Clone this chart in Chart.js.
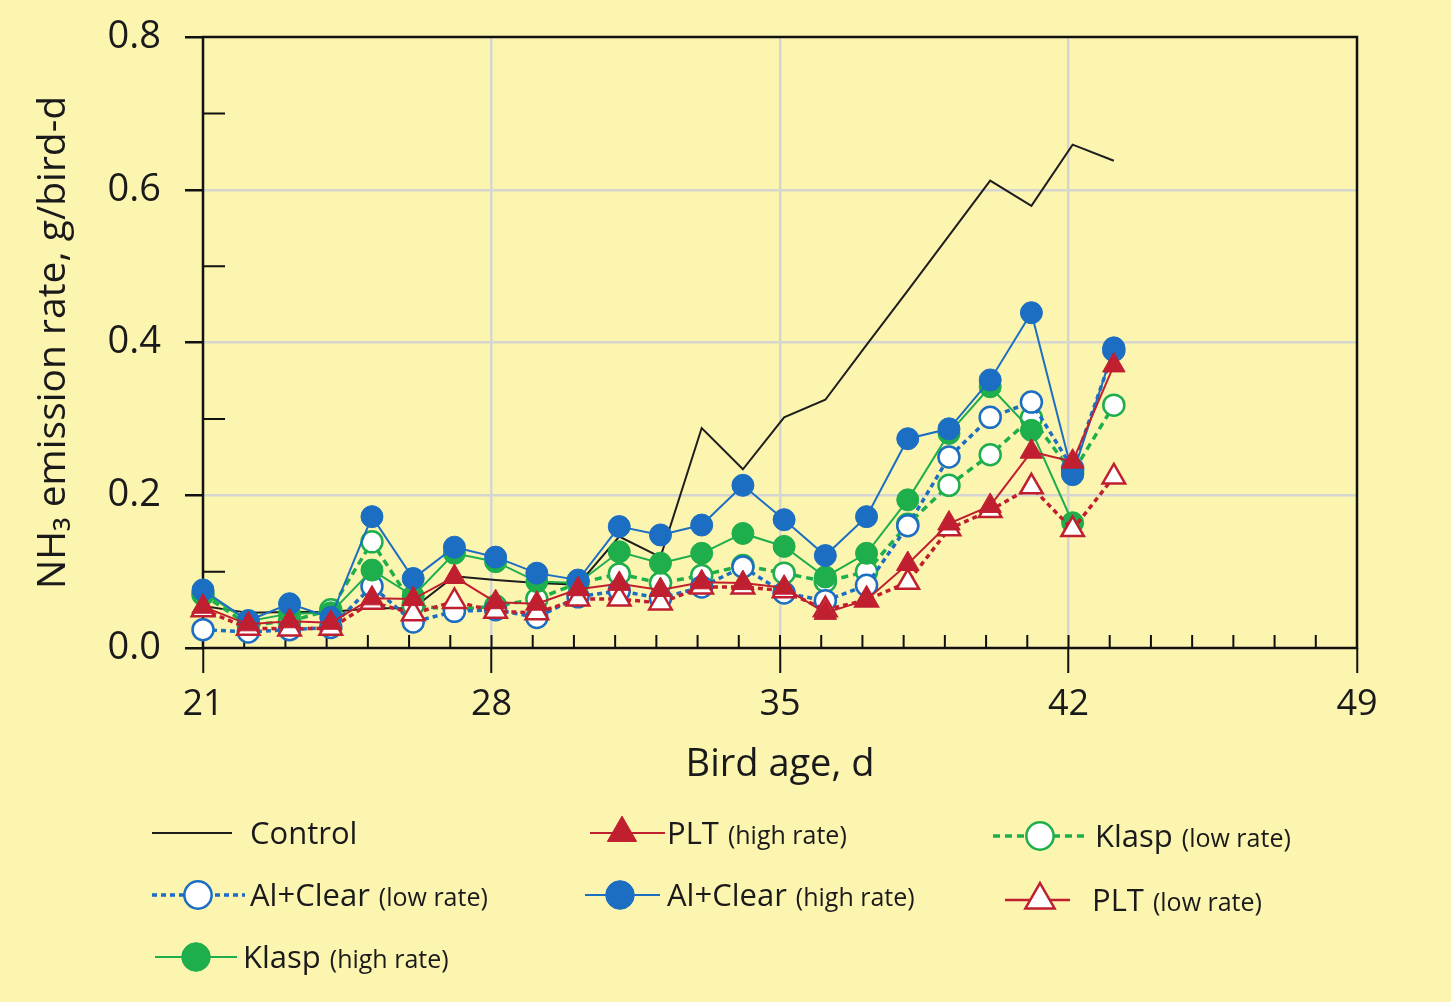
<!DOCTYPE html>
<html>
<head>
<meta charset="utf-8">
<script src="https://cdn.jsdelivr.net/npm/chart.js@4.4.1/dist/chart.umd.min.js"></script>
<style>
    html, body { margin: 0; padding: 0; background: #fcf5b0; }
    #wrap { width: 1451px; height: 1002px; }
</style>
</head>
<body>
<div id="wrap"><canvas id="nh3Chart" width="1451" height="1002"></canvas></div>
<script>
// Bird age (d) of each measurement
const ages = [21, 22.1, 23.1, 24.1, 25.1, 26.1, 27.1, 28.1, 29.1, 30.1, 31.1, 32.1,
              33.1, 34.1, 35.1, 36.1, 37.1, 38.1, 39.1, 40.1, 41.1, 42.1, 43.1];

// NH3 emission rate, g/bird-d
const control    = [0.055, 0.046, 0.047, 0.047, 0.052, 0.052, 0.094, 0.089, 0.085, 0.083, 0.146, 0.119,
                    0.288, 0.234, 0.302, 0.325, 0.397, 0.468, 0.540, 0.612, 0.579, 0.659, 0.638];
const alHigh     = [0.076, 0.036, 0.058, 0.040, 0.172, 0.091, 0.132, 0.119, 0.098, 0.089, 0.159, 0.148,
                    0.161, 0.213, 0.168, 0.121, 0.172, 0.274, 0.287, 0.351, 0.439, 0.227, 0.393];
const alLow      = [0.024, 0.021, 0.024, 0.027, 0.081, 0.034, 0.048, 0.050, 0.040, 0.067, 0.075, 0.065,
                    0.080, 0.106, 0.072, 0.062, 0.082, 0.160, 0.250, 0.302, 0.322, 0.235, 0.390];
const klaspHigh  = [0.073, 0.035, 0.045, 0.046, 0.102, 0.068, 0.124, 0.113, 0.087, 0.085, 0.126, 0.111,
                    0.124, 0.150, 0.133, 0.093, 0.124, 0.194, 0.281, 0.342, 0.285, 0.164, null];
const klaspLow   = [0.070, 0.030, 0.035, 0.050, 0.139, 0.056, 0.050, 0.055, 0.064, 0.085, 0.097, 0.085,
                    0.095, 0.108, 0.098, 0.087, 0.100, 0.162, 0.213, 0.253, 0.301, 0.229, 0.318];
const pltHigh    = [0.054, 0.031, 0.035, 0.033, 0.065, 0.064, 0.093, 0.060, 0.058, 0.077, 0.084, 0.076,
                    0.086, 0.085, 0.079, 0.046, 0.063, 0.110, 0.163, 0.186, 0.257, 0.244, 0.370];
const pltLow     = [0.050, 0.026, 0.025, 0.026, 0.060, 0.045, 0.061, 0.048, 0.046, 0.064, 0.064, 0.059,
                    0.080, 0.080, 0.075, 0.050, 0.063, 0.086, 0.156, 0.180, 0.211, 0.155, 0.224];

// Axis ticks
const xTicks = [21, 28, 35, 42, 49];
const yTicks = [0, 0.2, 0.4, 0.6, 0.8];
const yMinor = [0.1, 0.3, 0.5, 0.7];

const BLUE = '#1b6ec2';
const GREEN = '#1fae4c';
const RED = '#c01f30';
const BLACK = '#1e1e1e';

function pts(values) {
    return ages.map((a, i) => ({ x: a, y: values[i] }));
}

const datasets = [
    { label: 'PLT', note: '(high rate)', data: pts(pltHigh), order: 1,
      borderColor: RED, borderWidth: 2, pointStyle: 'triangle', pointRadius: 13,
      pointBackgroundColor: RED, pointBorderColor: RED, pointBorderWidth: 1 },
    { label: 'PLT', note: '(low rate)', data: pts(pltLow), order: 2,
      borderColor: RED, borderWidth: 3.5, borderDash: [5, 4], pointStyle: 'triangle', pointRadius: 13,
      pointBackgroundColor: '#fff', pointBorderColor: RED, pointBorderWidth: 2.5 },
    { label: 'Al+Clear', note: '(high rate)', data: pts(alHigh), order: 3,
      borderColor: BLUE, borderWidth: 2, pointStyle: 'circle', pointRadius: 11,
      pointBackgroundColor: BLUE, pointBorderColor: BLUE, pointBorderWidth: 1 },
    { label: 'Klasp', note: '(high rate)', data: pts(klaspHigh), order: 4,
      borderColor: GREEN, borderWidth: 2, pointStyle: 'circle', pointRadius: 11,
      pointBackgroundColor: GREEN, pointBorderColor: GREEN, pointBorderWidth: 1 },
    { label: 'Al+Clear', note: '(low rate)', data: pts(alLow), order: 5,
      borderColor: BLUE, borderWidth: 3.5, borderDash: [5, 4], pointStyle: 'circle', pointRadius: 10.5,
      pointBackgroundColor: '#fff', pointBorderColor: BLUE, pointBorderWidth: 2.5 },
    { label: 'Klasp', note: '(low rate)', data: pts(klaspLow), order: 6,
      borderColor: GREEN, borderWidth: 3.5, borderDash: [7, 5], pointStyle: 'circle', pointRadius: 10.5,
      pointBackgroundColor: '#fff', pointBorderColor: GREEN, pointBorderWidth: 2.5 },
    { label: 'Control', note: '', data: pts(control), order: 7,
      borderColor: BLACK, borderWidth: 2, pointRadius: 0 }
];
datasets.forEach(ds => { ds.clip = false; ds.fill = false; ds.tension = 0; ds.spanGaps = false; });

// Frame, inward minor ticks
const framePlugin = {
    id: 'frame',
    beforeDatasetsDraw(chart) {
        const { ctx, chartArea: a, scales: { x, y } } = chart;
        ctx.save();
        ctx.strokeStyle = '#111';
        ctx.lineWidth = 2.5;
        ctx.strokeRect(a.left, a.top, a.right - a.left, a.bottom - a.top);
        ctx.lineWidth = 2;
        ctx.beginPath();
        for (let d = 22; d < 49; d++) {
            const px = x.getPixelForValue(d);
            ctx.moveTo(px, a.bottom);
            ctx.lineTo(px, a.bottom - 13);
        }
        yMinor.forEach(v => {
            const py = y.getPixelForValue(v);
            ctx.moveTo(a.left, py);
            ctx.lineTo(a.left + 22, py);
        });
        ctx.stroke();
        ctx.restore();
    }
};

// Legend laid out as in the figure
const legendSlots = [
    { ds: 6, x0: 152, x1: 232, mx: null, y: 833, tx: 250 },
    { ds: 0, x0: 590, x1: 665, mx: 622, y: 833, tx: 667 },
    { ds: 5, x0: 993, x1: 1085, mx: 1040, y: 836, tx: 1095 },
    { ds: 4, x0: 152, x1: 245, mx: 198, y: 895, tx: 250 },
    { ds: 2, x0: 585, x1: 660, mx: 620, y: 895, tx: 667 },
    { ds: 1, x0: 1005, x1: 1070, mx: 1040, y: 900, tx: 1092, solid: true },
    { ds: 3, x0: 155, x1: 237, mx: 196, y: 957, tx: 243 }
];

function drawMarker(ctx, ds, cx, cy, scale) {
    const r = ds.pointRadius * scale;
    ctx.beginPath();
    if (ds.pointStyle === 'triangle') {
        ctx.moveTo(cx, cy - r);
        ctx.lineTo(cx + r * 0.866, cy + r * 0.5);
        ctx.lineTo(cx - r * 0.866, cy + r * 0.5);
        ctx.closePath();
    } else {
        ctx.arc(cx, cy, r, 0, Math.PI * 2);
    }
    ctx.fillStyle = ds.pointBackgroundColor;
    ctx.fill();
    ctx.lineWidth = ds.pointBorderWidth;
    ctx.strokeStyle = ds.pointBorderColor;
    ctx.stroke();
}

const legendPlugin = {
    id: 'figLegend',
    afterDraw(chart) {
        const ctx = chart.ctx;
        ctx.save();
        legendSlots.forEach(s => {
            const ds = chart.data.datasets[s.ds];
            ctx.setLineDash(s.solid ? [] : (ds.borderDash || []));
            ctx.lineWidth = s.solid ? 2.5 : ds.borderWidth;
            ctx.strokeStyle = ds.borderColor;
            ctx.beginPath();
            ctx.moveTo(s.x0, s.y);
            ctx.lineTo(s.x1, s.y);
            ctx.stroke();
            ctx.setLineDash([]);
            if (s.mx !== null) drawMarker(ctx, ds, s.mx, s.y, 1.3);

            ctx.fillStyle = '#1a1a1a';
            ctx.textBaseline = 'alphabetic';
            ctx.textAlign = 'left';
            ctx.font = "31px 'Open Sans', sans-serif";
            const base = s.y + 11;
            ctx.fillText(ds.label, s.tx, base);
            if (ds.note) {
                const w = ctx.measureText(ds.label).width;
                ctx.font = "25px 'Open Sans', sans-serif";
                ctx.fillText(ds.note, s.tx + w + 9, base);
            }
        });
        ctx.restore();
    }
};

Chart.defaults.font.family = "'Open Sans', sans-serif";
Chart.defaults.color = '#1a1a1a';

new Chart(document.getElementById('nh3Chart'), {
    type: 'line',
    data: { datasets: datasets },
    options: {
        responsive: false,
        animation: false,
        events: [],
        layout: { padding: { left: 30, right: 94, top: 37, bottom: 214 } },
        plugins: { legend: { display: false }, tooltip: { enabled: false } },
        scales: {
            x: {
                type: 'linear',
                min: 21, max: 49,
                afterFit: s => { s.height = 140; s.paddingLeft = 0; s.paddingRight = 0; },
                afterBuildTicks: s => { s.ticks = xTicks.map(v => ({ value: v })); },
                ticks: { font: { size: 36 }, padding: 10, maxRotation: 0 },
                grid: {
                    color: c => (c.tick && (c.tick.value === 21 || c.tick.value === 49)) ? 'rgba(0,0,0,0)' : '#d6d6d0',
                    lineWidth: 2.5,
                    tickColor: '#111', tickWidth: 2, tickLength: 25
                },
                border: { display: false },
                title: { display: true, text: 'Bird age, d', font: { size: 38 }, padding: 0 }
            },
            y: {
                min: 0, max: 0.8,
                afterFit: s => { s.width = 173; s.paddingTop = 0; s.paddingBottom = 0; },
                afterBuildTicks: s => { s.ticks = yTicks.map(v => ({ value: v })); },
                ticks: { font: { size: 38 }, padding: 24, callback: v => Number(v).toFixed(1) },
                grid: {
                    color: c => (c.tick && (c.tick.value === 0 || c.tick.value === 0.8)) ? 'rgba(0,0,0,0)' : '#d6d6d0',
                    lineWidth: 2.5,
                    tickColor: '#111', tickWidth: 2.5, tickLength: 18
                },
                border: { display: false },
                title: { display: true, text: 'NH\u2083 emission rate, g/bird-d', font: { size: 39 }, padding: 0 }
            }
        }
    },
    plugins: [framePlugin, legendPlugin]
});
</script>
</body>
</html>
